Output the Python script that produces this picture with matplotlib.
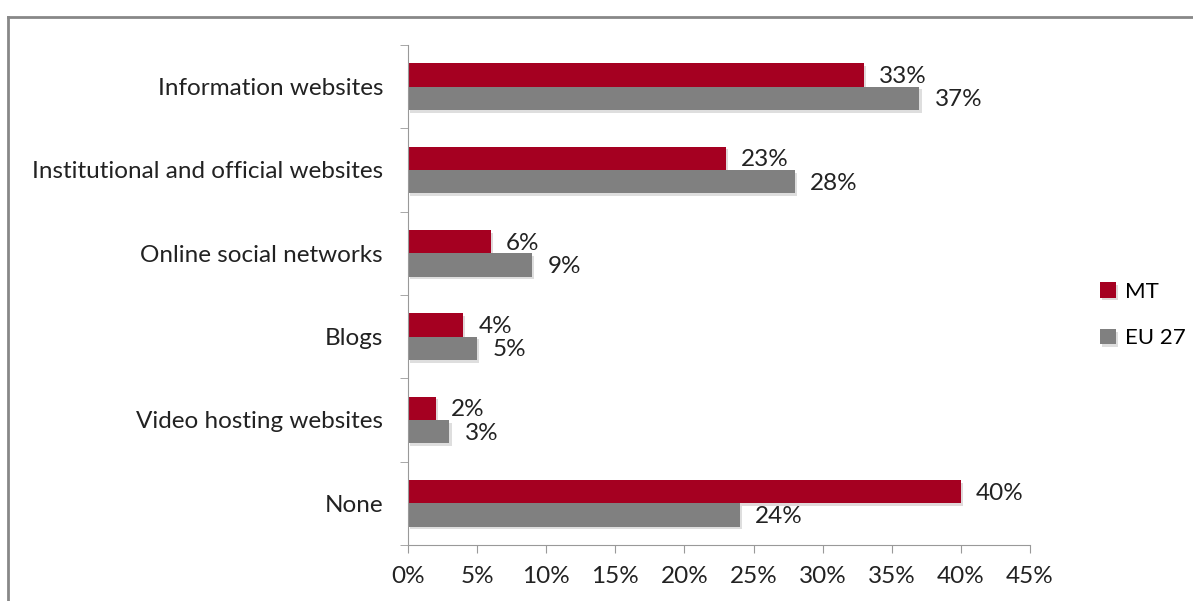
import matplotlib.pyplot as plt
import matplotlib.patheffects as pe
from matplotlib.lines import Line2D
import numpy as np

# data
categories = ["Information websites", "Institutional and official websites",
              "Online social networks", "Blogs", "Video hosting websites", "None"]
mt = [33, 23, 6, 4, 2, 40]
eu27 = [37, 28, 9, 5, 3, 24]
series_names = ["MT", "EU 27"]
colors = ["#A50021", "#808080"]

plt.rcParams['font.family'] = ['Lato', 'DejaVu Sans']
fs = 17.5

fig = plt.figure(figsize=(11.93, 6.01), dpi=100)
ax = fig.add_axes([408 / 1193, 1 - 545 / 601, (1030 - 408) / 1193, 500 / 601])

y = np.arange(len(categories))
h = 0.28
shadow = [pe.SimplePatchShadow(offset=(1.5, -2), alpha=0.15), pe.Normal()]
for vals, off, name, col in [(mt, -h / 2, series_names[0], colors[0]),
                             (eu27, h / 2, series_names[1], colors[1])]:
    bars = ax.barh(y + off, vals, height=h, color=col, label=name)
    for b, v in zip(bars, vals):
        b.set_path_effects(shadow)
        ax.text(v + 1.1, b.get_y() + h / 2 + 0.02, f"{v}%", va="center", ha="left",
                fontsize=fs, color="#222222")

ax.set_ylim(len(categories) - 0.5, -0.5)
ax.set_xlim(0, 45)
ax.set_xticks(np.arange(0, 46, 5))
ax.set_xticklabels([f"{t}%" for t in range(0, 46, 5)], fontsize=fs, color="#222222")
ax.set_yticks(y)
ax.set_yticklabels(categories, fontsize=fs, color="#222222")
ax.set_yticks(np.arange(-0.5, len(categories)), minor=True)
ax.tick_params(axis="y", which="major", length=0, pad=18)
ax.tick_params(axis="y", which="minor", length=6, color="#999999", direction="out")
ax.tick_params(axis="x", length=6, color="#999999", direction="out", pad=9)

for s in ["top", "right"]:
    ax.spines[s].set_visible(False)
for s in ["left", "bottom"]:
    ax.spines[s].set_color("#999999")

ax.legend(loc="center left", bbox_to_anchor=(1.088, 0.46), frameon=False,
          fontsize=16, handlelength=0.7, handleheight=0.7, labelspacing=1.2,
          handletextpad=0.4, borderaxespad=0.3)

# outer chart frame (only top and left visible in the reference)
fig.add_artist(Line2D([8 / 1193, 1], [1 - 17 / 601, 1 - 17 / 601], color="#888888", lw=2))
fig.add_artist(Line2D([8 / 1193, 8 / 1193], [0, 1 - 17 / 601], color="#888888", lw=2))

fig.savefig("out.png", dpi=100)
